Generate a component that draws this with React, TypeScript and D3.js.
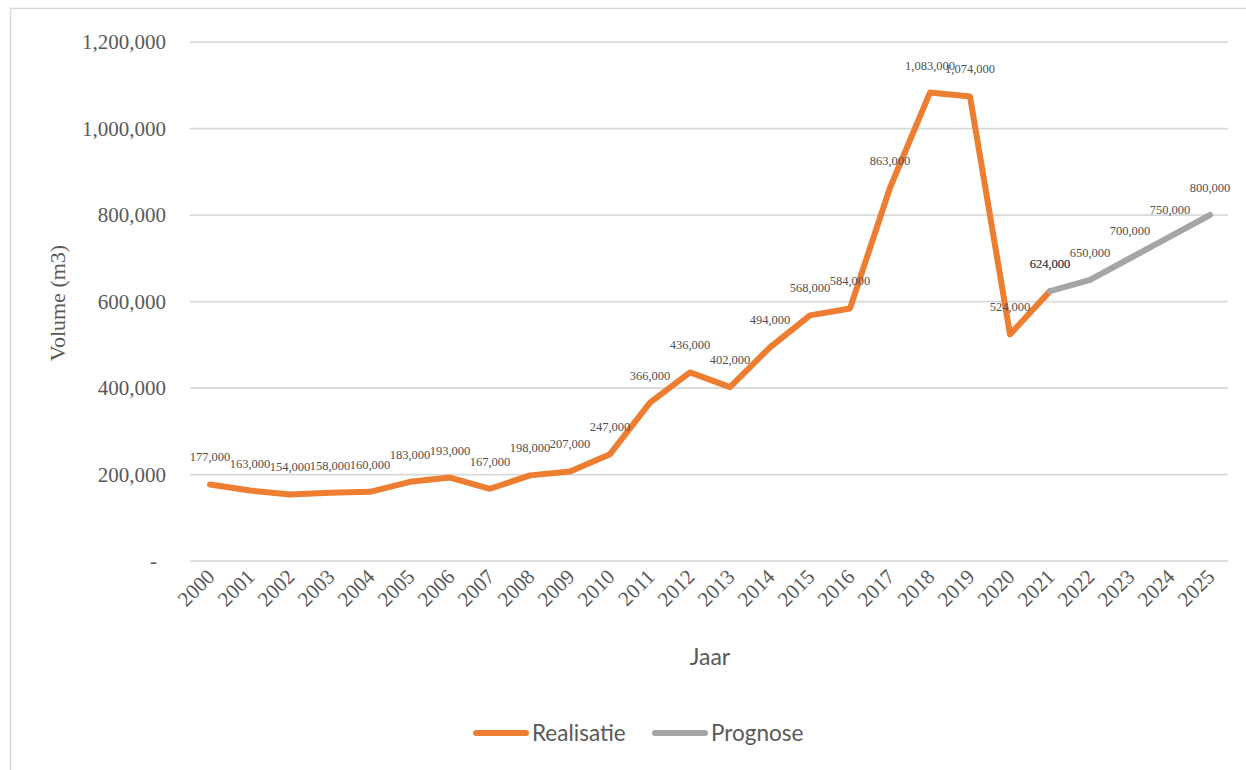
import React from "react";
import * as d3 from "d3";

// Yearly volume (m3): realised figures and forecast
const years: number[] = d3.range(2000, 2026);
const realisatieYears: number[] = d3.range(2000, 2022);
const realisatieValues: number[] = [
  177000, 163000, 154000, 158000, 160000, 183000, 193000, 167000, 198000, 207000,
  247000, 366000, 436000, 402000, 494000, 568000, 584000, 863000, 1083000, 1074000,
  524000, 624000,
];
const prognoseYears: number[] = [2021, 2022, 2023, 2024, 2025];
const prognoseValues: number[] = [624000, 650000, 700000, 750000, 800000];
const yTicks: number[] = [0, 200000, 400000, 600000, 800000, 1000000, 1200000];

const W = 1246;
const H = 770;
const plot = { left: 190, right: 1230, top: 42, bottom: 561 };

const ORANGE = "#ED7D31";
const GREY = "#A5A5A5";
const TEXT = "#595959";
const GRID = "#D9D9D9";
const SERIF = "'Liberation Serif', 'Times New Roman', serif";
const SANS = "Lato, 'Open Sans', sans-serif";

const fmt = d3.format(",");

type Pt = { year: number; value: number };

export default function App() {
  const x = d3
    .scalePoint<number>()
    .domain(years)
    .range([plot.left, plot.right])
    .padding(0.5);
  const y = d3.scaleLinear().domain([0, 1200000]).range([plot.bottom, plot.top]);

  const line = d3
    .line<Pt>()
    .x((d) => x(d.year) as number)
    .y((d) => y(d.value));

  const real: Pt[] = realisatieYears.map((yr, i) => ({ year: yr, value: realisatieValues[i] }));
  const prog: Pt[] = prognoseYears.map((yr, i) => ({ year: yr, value: prognoseValues[i] }));

  const series = [
    { name: "Realisatie", color: ORANGE, data: real },
    { name: "Prognose", color: GREY, data: prog },
  ];

  return (
    <svg
      width={W}
      height={H}
      style={{ position: "absolute", left: 0, top: 0, background: "#fff" }}
    >
      <rect x={10.5} y={8.5} width={1240} height={780} fill="#fff" stroke={GRID} strokeWidth={1.5} />

      {/* gridlines */}
      {yTicks.map((t) => (
        <line
          key={t}
          x1={plot.left}
          x2={plot.right - 2}
          y1={y(t)}
          y2={y(t)}
          stroke={GRID}
          strokeWidth={1.75}
        />
      ))}

      {/* y tick labels */}
      {yTicks.map((t) => (
        <text
          key={"yl" + t}
          x={166}
          dx={t === 0 ? -9 : 0}
          y={y(t)}
          dy="0.35em"
          textAnchor="end"
          fontFamily={SERIF}
          fontSize={21}
          fill={TEXT}
        >
          {t === 0 ? "-" : fmt(t)}
        </text>
      ))}

      {/* x tick labels */}
      {years.map((yr) => (
        <text
          key={"xl" + yr}
          transform={`translate(${(x(yr) as number) + 6},${578}) rotate(-45)`}
          textAnchor="end"
          fontFamily={SERIF}
          fontSize={21}
          fill={TEXT}
        >
          {yr}
        </text>
      ))}

      {/* axis titles */}
      <text
        transform={`translate(65,303) rotate(-90)`}
        textAnchor="middle"
        fontFamily={SERIF}
        fontSize={22}
        fill={TEXT}
      >
        Volume (m3)
      </text>
      <text x={710} y={665} textAnchor="middle" fontFamily={SANS} fontSize={23} fill={TEXT}>
        Jaar
      </text>

      {/* lines */}
      {series.map((s) => (
        <path
          key={s.name}
          d={line(s.data) || ""}
          fill="none"
          stroke={s.color}
          strokeWidth={6}
          strokeLinejoin="round"
          strokeLinecap="round"
        />
      ))}

      {/* data labels */}
      {series.map((s) =>
        s.data.map((d) => (
          <text
            key={s.name + d.year}
            x={x(d.year) as number}
            y={y(d.value) - 23}
            textAnchor="middle"
            fontFamily={SERIF}
            fontSize={12.5}
            fill="#505050"
          >
            {fmt(d.value)}
          </text>
        ))
      )}

      {/* legend */}
      {series.map((s, i) => {
        const lx = 476 + i * 179;
        return (
          <g key={"lg" + s.name}>
            <line
              x1={lx}
              x2={lx + 50}
              y1={733}
              y2={733}
              stroke={s.color}
              strokeWidth={6}
              strokeLinecap="round"
            />
            <text x={lx + 56} y={741} fontFamily={SANS} fontSize={22.5} fill={TEXT}>
              {s.name}
            </text>
          </g>
        );
      })}
    </svg>
  );
}
